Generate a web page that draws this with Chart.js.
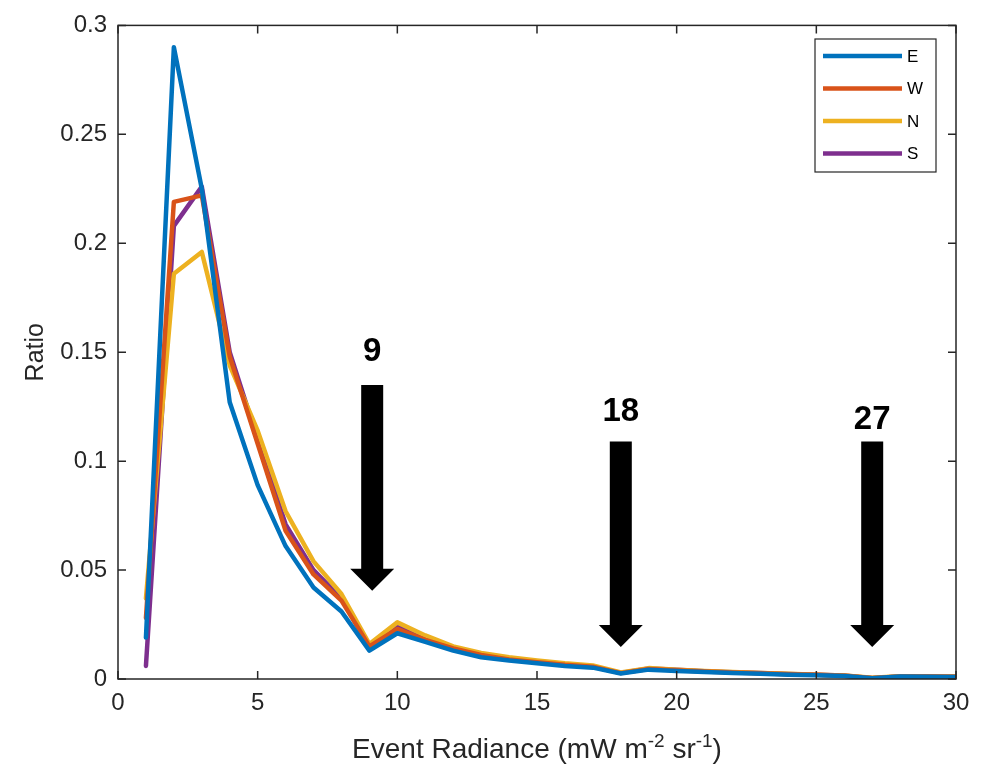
<!DOCTYPE html>
<html>
<head>
<meta charset="utf-8">
<script src="https://cdn.jsdelivr.net/npm/chart.js@4.4.0/dist/chart.umd.min.js"></script>
<style>
  html, body { margin: 0; padding: 0; background: #fff; }
  canvas { display: block; }
</style>
</head>
<body>
<canvas id="ratioChart" width="989" height="770"></canvas>
<script>
const radiance = [1, 2, 3, 4, 5, 6, 7, 8, 9, 10, 11, 12, 13, 14, 15,
    16, 17, 18, 19, 20, 21, 22, 23, 24, 25, 26, 27, 28, 29, 30];

const ratioE = [0.019, 0.290, 0.225, 0.127, 0.089, 0.061, 0.042, 0.031, 0.013, 0.021,
    0.017, 0.013, 0.010, 0.0085, 0.0072, 0.006, 0.0052, 0.0025, 0.0043, 0.0037,
    0.0032, 0.0028, 0.0024, 0.002, 0.0017, 0.0014, 0.0004, 0.0011, 0.001, 0.0009];
const ratioW = [0.028, 0.219, 0.222, 0.148, 0.108, 0.068, 0.048, 0.036, 0.015, 0.023,
    0.018, 0.014, 0.011, 0.009, 0.0077, 0.0065, 0.0056, 0.0027, 0.0046, 0.004,
    0.0034, 0.003, 0.0026, 0.0022, 0.0019, 0.0015, 0.0005, 0.0012, 0.0011, 0.001];
const ratioN = [0.037, 0.186, 0.196, 0.144, 0.114, 0.077, 0.054, 0.039, 0.016, 0.026,
    0.020, 0.015, 0.012, 0.010, 0.0085, 0.0072, 0.0062, 0.003, 0.005, 0.0043,
    0.0037, 0.0032, 0.0028, 0.0024, 0.002, 0.0016, 0.0006, 0.0013, 0.0012, 0.0011];
const ratioS = [0.006, 0.208, 0.226, 0.150, 0.110, 0.071, 0.050, 0.037, 0.015, 0.024,
    0.019, 0.0145, 0.0115, 0.0095, 0.008, 0.0068, 0.0058, 0.0028, 0.0048, 0.0042,
    0.0036, 0.0031, 0.0027, 0.0023, 0.002, 0.0016, 0.0004, 0.0012, 0.0011, 0.001];

const seriesNames = ['E', 'W', 'N', 'S'];
const seriesColors = ['#0072BD', '#D95319', '#EDB120', '#7E2F8E'];

const yTickLabels = ['0', '0.05', '0.1', '0.15', '0.2', '0.25', '0.3'];
const xTickLabels = ['0', '5', '10', '15', '20', '25', '30'];

// arrows marking the multiples of 9
const arrowLabels = ['9', '18', '27'];
const arrowX = [9.1, 18, 27];
const arrowTop = [0.135, 0.109, 0.109];
const arrowTip = [0.0405, 0.0147, 0.0147];
const arrowTextY = [0.146, 0.1185, 0.1147];

const axisColor = '#262626';
const fontFamily = '"Liberation Sans", Arial, sans-serif';

const toPoints = vals => vals.map((v, i) => ({ x: radiance[i], y: v }));

const decorPlugin = {
    id: 'decor',
    afterDraw(chart) {
        const ctx = chart.ctx;
        const a = chart.chartArea;
        const xs = chart.scales.x, ys = chart.scales.y;
        ctx.save();

        // axes box and inward ticks
        ctx.strokeStyle = axisColor;
        ctx.lineWidth = 1.5;
        ctx.strokeRect(a.left, a.top, a.right - a.left, a.bottom - a.top);
        const tl = 8;
        ctx.beginPath();
        for (let v = 0; v <= 30; v += 5) {
            const px = xs.getPixelForValue(v);
            ctx.moveTo(px, a.bottom); ctx.lineTo(px, a.bottom - tl);
            ctx.moveTo(px, a.top); ctx.lineTo(px, a.top + tl);
        }
        for (let i = 0; i < yTickLabels.length; i++) {
            const py = ys.getPixelForValue(i * 0.05);
            ctx.moveTo(a.left, py); ctx.lineTo(a.left + tl, py);
            ctx.moveTo(a.right, py); ctx.lineTo(a.right - tl, py);
        }
        ctx.stroke();

        // arrows
        ctx.fillStyle = '#000';
        for (let i = 0; i < arrowX.length; i++) {
            const cx = xs.getPixelForValue(arrowX[i]);
            const top = ys.getPixelForValue(arrowTop[i]);
            const tip = ys.getPixelForValue(arrowTip[i]);
            const headH = 22, shaftW = 11, headW = 22;
            ctx.beginPath();
            ctx.moveTo(cx - shaftW, top);
            ctx.lineTo(cx + shaftW, top);
            ctx.lineTo(cx + shaftW, tip - headH);
            ctx.lineTo(cx + headW, tip - headH);
            ctx.lineTo(cx, tip);
            ctx.lineTo(cx - headW, tip - headH);
            ctx.lineTo(cx - shaftW, tip - headH);
            ctx.closePath();
            ctx.fill();
            ctx.font = 'bold 33px ' + fontFamily;
            ctx.textAlign = 'center';
            ctx.textBaseline = 'alphabetic';
            ctx.fillText(arrowLabels[i], cx, ys.getPixelForValue(arrowTextY[i]));
        }

        // legend
        const lx = 815, ly = 39, lw = 121, lh = 133;
        ctx.fillStyle = '#fff';
        ctx.fillRect(lx, ly, lw, lh);
        ctx.strokeStyle = axisColor;
        ctx.lineWidth = 1.2;
        ctx.strokeRect(lx, ly, lw, lh);
        ctx.font = '17px ' + fontFamily;
        ctx.textAlign = 'left';
        ctx.textBaseline = 'middle';
        seriesNames.forEach((name, i) => {
            const ry = 56 + i * 32.5;
            ctx.strokeStyle = seriesColors[i];
            ctx.lineWidth = 4.5;
            ctx.beginPath();
            ctx.moveTo(823, ry); ctx.lineTo(902, ry);
            ctx.stroke();
            ctx.fillStyle = '#000';
            ctx.fillText(name, 907, ry + 1);
        });

        // y axis title
        ctx.fillStyle = axisColor;
        ctx.font = '25px ' + fontFamily;
        ctx.save();
        ctx.translate(43, (a.top + a.bottom) / 2);
        ctx.rotate(-Math.PI / 2);
        ctx.textAlign = 'center';
        ctx.textBaseline = 'alphabetic';
        ctx.fillText('Ratio', 0, 0);
        ctx.restore();

        // x axis title with superscripts
        const parts = [
            { t: 'Event Radiance (mW m', sup: false },
            { t: '-2', sup: true },
            { t: ' sr', sup: false },
            { t: '-1', sup: true },
            { t: ')', sup: false }
        ];
        const big = '28px ' + fontFamily;
        const small = '19px ' + fontFamily;
        let total = 0;
        parts.forEach(p => { ctx.font = p.sup ? small : big; total += ctx.measureText(p.t).width; });
        let x = (a.left + a.right) / 2 - total / 2;
        const base = 758;
        ctx.textAlign = 'left';
        ctx.textBaseline = 'alphabetic';
        parts.forEach(p => {
            ctx.font = p.sup ? small : big;
            ctx.fillText(p.t, x, p.sup ? base - 11 : base);
            x += ctx.measureText(p.t).width;
        });
        ctx.restore();
    }
};

new Chart('ratioChart', {
    type: 'line',
    data: {
        datasets: seriesNames.map((name, i) => ({
            label: name,
            data: toPoints([ratioE, ratioW, ratioN, ratioS][i]),
            borderColor: seriesColors[i],
            backgroundColor: seriesColors[i],
            borderWidth: 4.5,
            borderJoinStyle: 'round',
            borderCapStyle: 'round',
            pointRadius: 0,
            tension: 0,
            fill: false
        }))
    },
    options: {
        responsive: false,
        devicePixelRatio: 1,
        animation: false,
        layout: { padding: { top: 19, right: 33, left: 0, bottom: 0 } },
        plugins: {
            legend: { display: false },
            tooltip: { enabled: false }
        },
        scales: {
            x: {
                type: 'linear',
                min: 0,
                max: 30,
                afterFit: s => { s.height = 91; },
                grid: { display: false, drawTicks: false },
                border: { display: false },
                ticks: {
                    stepSize: 5,
                    padding: 10,
                    color: axisColor,
                    font: { size: 24, family: fontFamily },
                    callback: (v, i) => xTickLabels[i]
                }
            },
            y: {
                min: 0,
                max: 0.3,
                afterFit: s => { s.width = 118; },
                grid: { display: false, drawTicks: false },
                border: { display: false },
                ticks: {
                    stepSize: 0.05,
                    padding: 11,
                    color: axisColor,
                    font: { size: 24, family: fontFamily },
                    callback: (v, i) => yTickLabels[i]
                }
            }
        }
    },
    plugins: [decorPlugin]
});
</script>
</body>
</html>
